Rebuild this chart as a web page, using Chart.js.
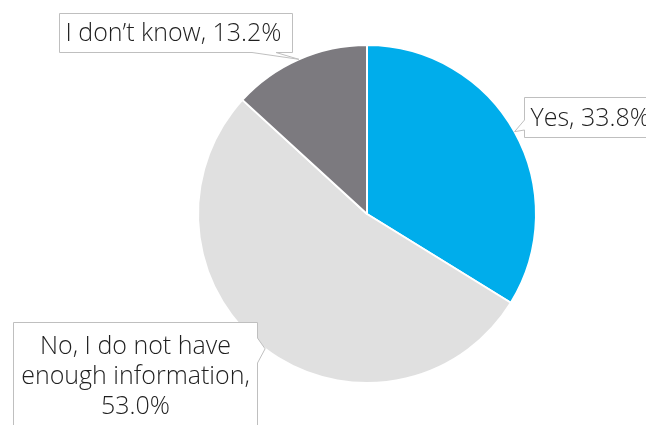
<!DOCTYPE html>
<html>
<head>
<meta charset="utf-8">
<script src="https://cdn.jsdelivr.net/npm/chart.js@4"></script>
<style>
  html, body { margin: 0; padding: 0; background: #fff; }
  #wrap { width: 646px; height: 425px; position: relative; }
</style>
</head>
<body>
<div id="wrap"><canvas id="pieChart"></canvas></div>
<script>
const categories = ['Yes', 'No, I do not have enough information', 'I don\u2019t know'];
const shares = [33.8, 53.0, 13.2];
const sliceColors = ['#00ADEB', '#E0E0E0', '#7C7A7F'];

// callout boxes: rect + which side the pointer leaves from and its base span on that side
const callouts = [
  { x: 524.5, y: 97.5, w: 160, h: 40, side: 'left', a: 120, b: 130, wrap: false },
  { x: 13.5, y: 322.5, w: 244, h: 120, side: 'right', a: 338, b: 363, wrap: true },
  { x: 59.5, y: 13.5, w: 233, h: 39, side: 'bottom', a: 252, b: 276, wrap: false }
];

const labelFont = '300 25px "Open Sans", "Noto Sans", sans-serif';

function wrapText(ctx, text, maxWidth) {
  var words = text.split(' ');
  var lines = [];
  var line = '';
  words.forEach(function(w) {
    var test = line ? line + ' ' + w : w;
    if (ctx.measureText(test).width > maxWidth && line) {
      lines.push(line);
      line = w;
    } else {
      line = test;
    }
  });
  if (line) lines.push(line);
  return lines;
}

const calloutPlugin = {
  id: 'callouts',
  afterDatasetsDraw(chart) {
    var ctx = chart.ctx;
    var meta = chart.getDatasetMeta(0);
    ctx.save();
    ctx.font = labelFont;
    meta.data.forEach(function(arc, i) {
      var c = callouts[i];
      var mid = (arc.startAngle + arc.endAngle) / 2;
      var tx = arc.x + Math.cos(mid) * arc.outerRadius;
      var ty = arc.y + Math.sin(mid) * arc.outerRadius;

      var x0 = c.x, y0 = c.y, x1 = c.x + c.w, y1 = c.y + c.h;
      ctx.beginPath();
      ctx.moveTo(x0, y0);
      ctx.lineTo(x1, y0);
      if (c.side === 'right') {
        ctx.lineTo(x1, c.a);
        ctx.lineTo(tx, ty);
        ctx.lineTo(x1, c.b);
      }
      ctx.lineTo(x1, y1);
      if (c.side === 'bottom') {
        ctx.lineTo(c.b, y1);
        ctx.lineTo(tx, ty);
        ctx.lineTo(c.a, y1);
      }
      ctx.lineTo(x0, y1);
      if (c.side === 'left') {
        ctx.lineTo(x0, c.b);
        ctx.lineTo(tx, ty);
        ctx.lineTo(x0, c.a);
      }
      ctx.closePath();
      ctx.fillStyle = '#ffffff';
      ctx.fill();
      ctx.strokeStyle = '#BFBFBF';
      ctx.lineWidth = 1;
      ctx.stroke();

      var pct = shares[i].toFixed(1) + '%';
      ctx.fillStyle = '#1F1F1F';
      ctx.textBaseline = 'middle';
      if (c.wrap) {
        // category text wrapped to the box, value on its own line
        var lines = wrapText(ctx, categories[i] + ',', c.w - 6);
        lines.push(pct);
        ctx.textAlign = 'center';
        lines.forEach(function(l, k) {
          ctx.fillText(l, x0 + c.w / 2, y0 + 24 + k * 30);
        });
      } else {
        ctx.textAlign = 'left';
        ctx.fillText(categories[i] + ', ' + pct, x0 + 6, y0 + c.h / 2 + 1);
      }
    });
    ctx.restore();
  }
};

new Chart(document.getElementById('pieChart').getContext('2d'), {
  type: 'pie',
  data: {
    labels: categories,
    datasets: [{
      data: shares,
      backgroundColor: sliceColors,
      borderColor: '#ffffff',
      borderWidth: 2
    }]
  },
  options: {
    responsive: true,
    maintainAspectRatio: false,
    animation: false,
    layout: { padding: { left: 197, right: 109, top: 44, bottom: 41 } },
    plugins: {
      legend: { display: false },
      tooltip: { enabled: false }
    }
  },
  plugins: [calloutPlugin]
});
</script>
</body>
</html>
